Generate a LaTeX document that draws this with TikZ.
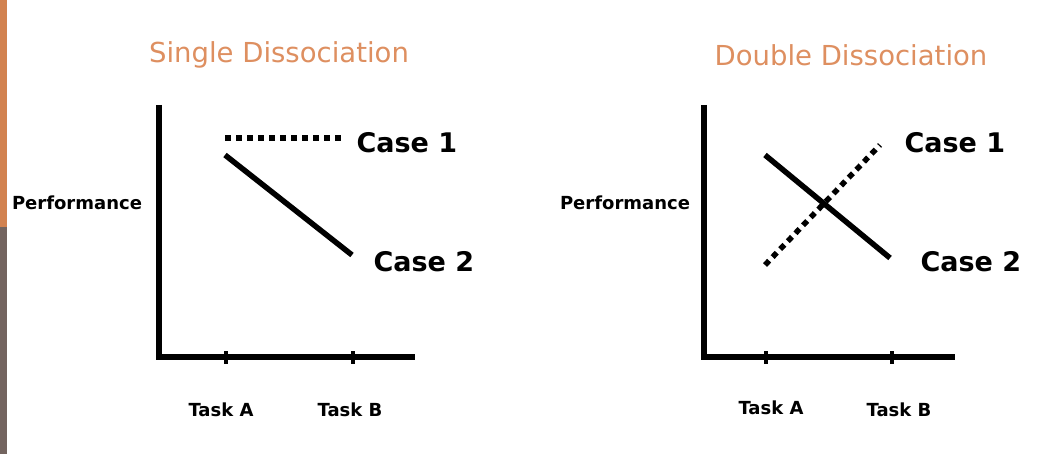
\documentclass[tikz,border=0pt]{standalone}
\usepackage{fontspec}
\setmainfont{DejaVu Sans}
\definecolor{tor}{RGB}{222,143,96}
\definecolor{bor}{RGB}{210,130,80}
\definecolor{bgr}{RGB}{115,100,95}
\begin{document}
\begin{tikzpicture}[x=1pt,y=-1pt,
  ax/.style={line width=5.5pt},
  tk/.style={line width=4.5pt},
  sol/.style={line width=5.5pt},
  dot/.style={line width=5.5pt,dash pattern=on 6pt off 5pt},
  ttl/.style={text=tor,font=\fontsize{27.5}{30}\selectfont},
  cs/.style={font=\bfseries\fontsize{27}{30}\selectfont,anchor=west},
  sm/.style={font=\bfseries\fontsize{18}{21}\selectfont}]
\useasboundingbox (0,0) rectangle (1048,454);
\fill[white] (0,0) rectangle (1048,454);
\fill[bor] (0,0) rectangle (7,227);
\fill[bgr] (0,227) rectangle (7,454);
% left
\node[ttl] (t1) at (279,55) {Single Dissociation};
\coordinate (o1) at (159,357);
\coordinate (y1) at (159,105);
\coordinate (x1) at (415,357);
\draw[ax] (y1) -- (o1) -- (x1);
\draw[tk] (226,351) -- (226,364) (353,351) -- (353,364);
\coordinate (d1a) at (225,138); \coordinate (d1b) at (345,138);
\draw[dot] (d1a) -- (d1b);
\coordinate (s1a) at (225,155); \coordinate (s1b) at (352,255);
\draw[sol] (s1a) -- (s1b);
\node[cs] (c11) at (353,143) {Case 1};
\node[cs] (c12) at (370,262) {Case 2};
\node[sm] (p1) at (77,203) {Performance};
\node[sm] (ta1) at (221,410) {Task A};
\node[sm] (tb1) at (350,410) {Task B};
% right
\node[ttl] (t2) at (851,55) {Double Dissociation};
\coordinate (o2) at (704,357);
\coordinate (y2) at (704,105);
\coordinate (x2) at (955,357);
\draw[ax] (y2) -- (o2) -- (x2);
\draw[tk] (766,351) -- (766,364) (892,351) -- (892,364);
\coordinate (s2a) at (765,155); \coordinate (s2b) at (890,258);
\draw[sol] (s2a) -- (s2b);
\coordinate (d2a) at (765,265); \coordinate (d2b) at (880,145);
\draw[dot] (d2a) -- (d2b);
\node[cs] (c21) at (901,143) {Case 1};
\node[cs] (c22) at (917,262) {Case 2};
\node[sm] (p2) at (625,203) {Performance};
\node[sm] (ta2) at (771,408) {Task A};
\node[sm] (tb2) at (899,410) {Task B};
\end{tikzpicture}
\end{document}
